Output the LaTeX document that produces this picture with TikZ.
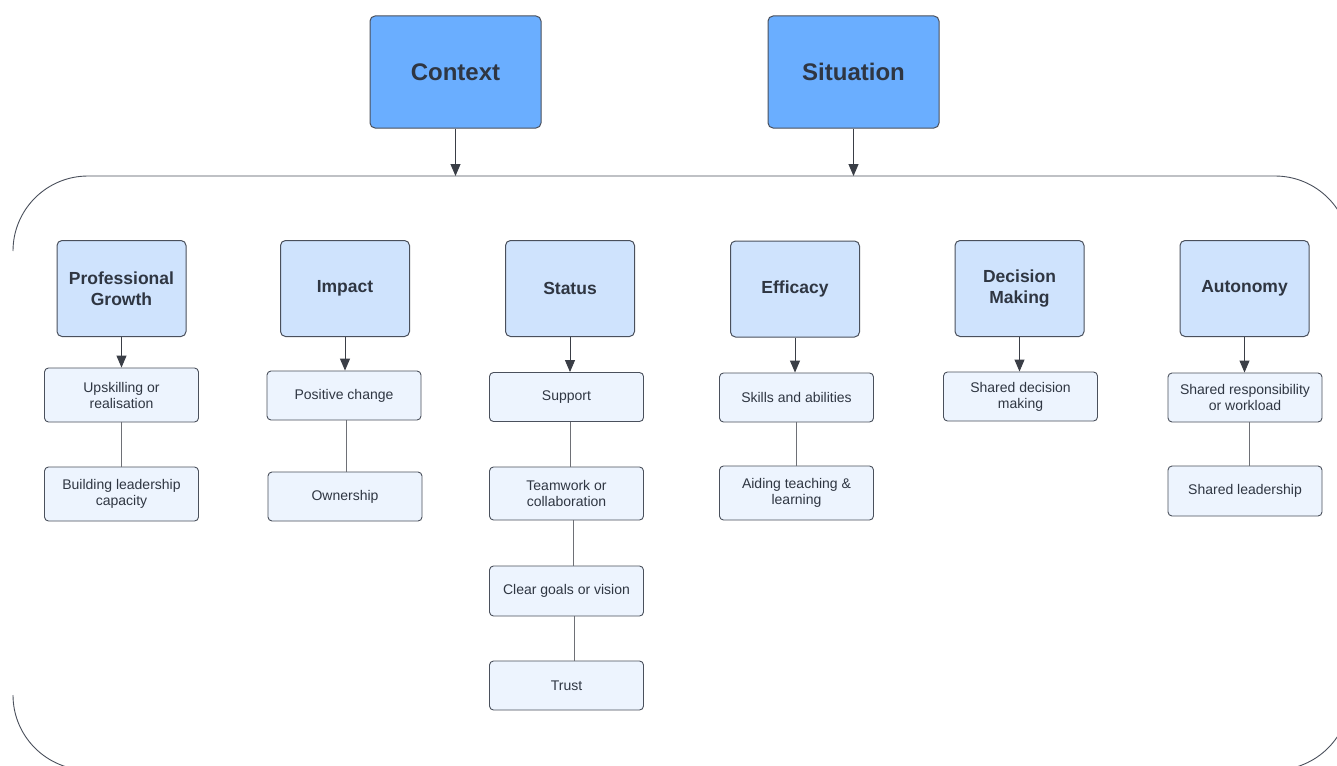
\documentclass[tikz,border=0pt]{standalone}
\usepackage{fontspec}
\setmainfont{Liberation Sans}
\usetikzlibrary{arrows.meta}
\definecolor{topfill}{HTML}{6AAEFF}
\definecolor{catfill}{HTML}{CFE3FD}
\definecolor{subfill}{HTML}{EDF4FE}
\definecolor{bordc}{HTML}{4A505C}
\definecolor{txtc}{HTML}{2F3642}
\definecolor{arrc}{HTML}{3A3E46}
\definecolor{linec}{HTML}{6E7076}
\tikzset{
  topbox/.style={draw=bordc, line width=1pt, fill=topfill, rounded corners=5pt,
    minimum width=171pt, minimum height=112pt, inner sep=0pt, align=center,
    text=txtc, font=\fontsize{24}{29}\selectfont\bfseries},
  catbox/.style={draw=bordc, line width=1pt, fill=catfill, rounded corners=5pt,
    minimum width=129pt, minimum height=96pt, inner sep=0pt, align=center,
    text=txtc, font=\fontsize{17.5}{21}\selectfont\bfseries},
  subbox/.style={draw=bordc, line width=0.9pt, fill=subfill, rounded corners=4pt,
    minimum width=154pt, minimum height=49pt, inner sep=0pt, align=center,
    text=txtc, font=\fontsize{14}{16}\selectfont},
  arr/.style={draw=arrc, line width=1pt, -{Triangle[length=12pt,width=10pt]}},
  plainline/.style={draw=linec, line width=1pt},
  container/.style={draw=bordc, line width=0.9pt, rounded corners=75pt}
}
\begin{document}
\begin{tikzpicture}[x=1pt,y=-1pt]
\useasboundingbox[fill=white] (0,0) rectangle (1337,765);

% container
\draw[container] (13,251) -- (13,176) -- (1350,176) -- (1350,300);
\draw[container] (13,695) -- (13,770) -- (1350,770) -- (1350,650);
\coordinate (cin) at (455.5,176);
\coordinate (sin) at (853.5,176);

% top boxes
\node[topbox] (ctx) at (455.5,72) {Context};
\node[topbox] (sit) at (853.5,72) {Situation};
\draw[arr] (ctx.south) -- (cin);
\draw[arr] (sit.south) -- (sin);

% categories
\node[catbox] (pg) at (121.5,288.5) {Professional\\Growth};
\node[catbox] (im) at (345,288.5) {Impact};
\node[catbox] (st) at (570,288.5) {Status};
\node[catbox] (ef) at (795,289) {Efficacy};
\node[catbox] (dm) at (1019.5,288.5) {Decision\\Making};
\node[catbox] (au) at (1244.5,288.5) {Autonomy};

% column 1
\node[subbox, minimum height=54pt] (up) at (121.5,395) {Upskilling or\\realisation};
\node[subbox, minimum height=54pt] (bl) at (121.5,494) {Building leadership\\capacity};
\draw[arr] (pg.south) -- (pg.south |- up.north);
\draw[plainline] (up.south) -- (bl.north);

% column 2
\node[subbox] (pc) at (344,395.5) {Positive change};
\node[subbox] (ow) at (345,496.5) {Ownership};
\draw[arr] (im.south) -- (im.south |- pc.north);
\draw[plainline] ([xshift=2pt]pc.south) -- ([xshift=1pt]ow.north);

% column 3
\node[subbox] (su) at (566.5,397) {Support};
\node[subbox, minimum height=53pt] (tw) at (566.5,493.5) {Teamwork or\\collaboration};
\node[subbox, minimum height=50pt] (cg) at (566.5,591) {Clear goals or vision};
\node[subbox] (tr) at (566.5,685.5) {Trust};
\draw[arr] (st.south) -- (st.south |- su.north);
\draw[plainline] ([xshift=3.5pt]su.south) -- ([xshift=3.5pt]tw.north);
\draw[plainline] ([xshift=7pt]tw.south) -- ([xshift=7pt]cg.north);
\draw[plainline] ([xshift=7.5pt]cg.south) -- ([xshift=7.5pt]tr.north);

% column 4
\node[subbox] (sk) at (796.5,397.5) {Skills and abilities};
\node[subbox, minimum height=54pt] (ai) at (796.5,493) {Aiding teaching \&\\learning};
\draw[arr] (ef.south) -- (ef.south |- sk.north);
\draw[plainline] (sk.south) -- (ai.north);

% column 5
\node[subbox] (sd) at (1020.5,396.5) {Shared decision\\making};
\draw[arr] (dm.south) -- (dm.south |- sd.north);

% column 6
\node[subbox] (sr) at (1245,397.5) {Shared responsibility\\or workload};
\node[subbox, minimum height=50pt] (sl) at (1245,491) {Shared leadership};
\draw[arr] (au.south) -- (au.south |- sr.north);
\draw[plainline] ([xshift=4pt]sr.south) -- ([xshift=4pt]sl.north);
\end{tikzpicture}
\end{document}
